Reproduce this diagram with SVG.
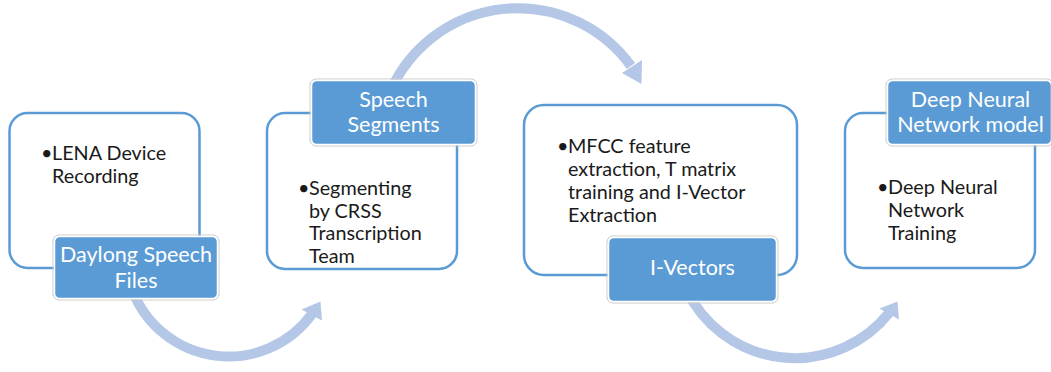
<svg xmlns="http://www.w3.org/2000/svg" width="1051" height="372" viewBox="0 0 1051 372">
<style>
.box{fill:#ffffff;stroke:#5b9bd5;stroke-width:2.5}
.lab{fill:#5b9bd5;stroke:#ffffff;stroke-width:1.5}
.labo{fill:none;stroke:#c9c9c9;stroke-width:1}
.lt{font-family:Lato,"Liberation Sans",sans-serif;font-size:21.5px;fill:#ffffff;text-anchor:middle}
.bt{font-family:Lato,"Liberation Sans",sans-serif;font-size:19.8px;fill:#1a1a1a}
.arc{fill:none;stroke:#b4c7e7;stroke-width:10}
.head{fill:#b4c7e7}
</style>
<rect width="1051" height="372" fill="#ffffff"/>
<g id="connectors">
<path class="arc" d="M132.3,290 A103,103 0 0 0 312,314"/>
<polygon class="head" points="320.5,301.5 301.5,309.5 322,320.5"/>
<path class="arc" d="M390.9,90 A139.5,139.5 0 0 1 631,66"/>
<polygon class="head" points="642,60 622,73 641.5,84"/>
<path class="arc" d="M686.6,290 A120.4,120.4 0 0 0 889,313"/>
<polygon class="head" points="897.5,301.5 879.5,308.5 899,319.5"/>
</g>
<g id="node1">
<rect class="box" x="9.5" y="113" width="190" height="155" rx="18"/>
<text class="bt"><tspan x="41" y="160">•</tspan><tspan x="52" y="160">LENA Device</tspan><tspan x="52" y="183">Recording</tspan></text>
<rect class="labo" x="53" y="235" width="166" height="65" rx="6"/>
<rect class="lab" x="54.5" y="236.5" width="163" height="62" rx="5"/>
<text class="lt"><tspan x="136" y="262">Daylong Speech</tspan><tspan x="136" y="288">Files</tspan></text>
</g>
<g id="node2">
<rect class="box" x="267" y="113" width="190" height="156" rx="18"/>
<text class="bt"><tspan x="298" y="195">•</tspan><tspan x="309" y="195">Segmenting</tspan><tspan x="309" y="217.7">by CRSS</tspan><tspan x="309" y="240.4">Transcription</tspan><tspan x="309" y="263">Team</tspan></text>
<rect class="labo" x="310" y="79" width="167" height="67" rx="6"/>
<rect class="lab" x="311.5" y="80.5" width="164" height="64" rx="5"/>
<text class="lt"><tspan x="393.5" y="107">Speech</tspan><tspan x="393.5" y="132.3">Segments</tspan></text>
</g>
<g id="node3">
<rect class="box" x="524" y="105" width="273" height="170" rx="20"/>
<text class="bt"><tspan x="557" y="152.5">•</tspan><tspan x="568" y="152.5">MFCC feature</tspan><tspan x="568" y="175.8">extraction, T matrix</tspan><tspan x="568" y="199.1">training and I-Vector</tspan><tspan x="568" y="222.4">Extraction</tspan></text>
<rect class="labo" x="607" y="236" width="171" height="67" rx="6"/>
<rect class="lab" x="608.5" y="237.5" width="168" height="64" rx="5"/>
<text class="lt"><tspan x="692.5" y="275">I-Vectors</tspan></text>
</g>
<g id="node4">
<rect class="box" x="845" y="113" width="190" height="155" rx="18"/>
<text class="bt"><tspan x="877" y="194">•</tspan><tspan x="888" y="194">Deep Neural</tspan><tspan x="888" y="217.3">Network</tspan><tspan x="888" y="240">Training</tspan></text>
<rect class="labo" x="886" y="79" width="167" height="67" rx="6"/>
<rect class="lab" x="887.5" y="80.5" width="164" height="64" rx="5"/>
<text class="lt"><tspan x="970.5" y="106.7">Deep Neural</tspan><tspan x="970.5" y="131.7">Network model</tspan></text>
</g>
</svg>
